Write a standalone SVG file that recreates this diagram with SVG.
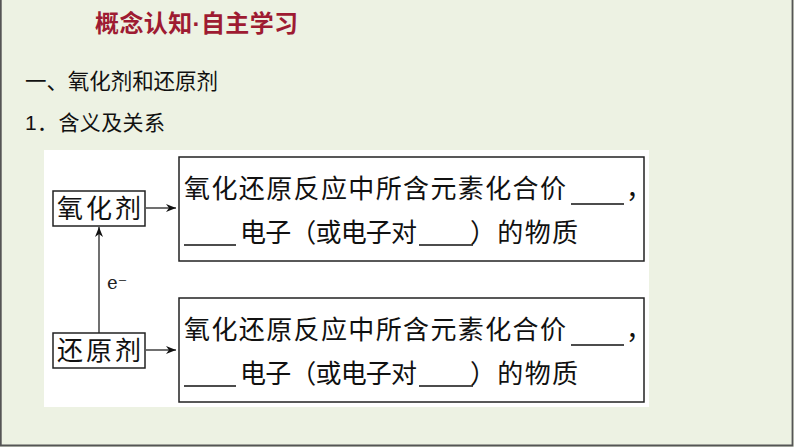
<svg xmlns="http://www.w3.org/2000/svg" width="794" height="447" viewBox="0 0 794 447">
<defs>
<style>
.hd{font-family:"Liberation Sans","Noto Sans CJK SC",sans-serif;fill:#111}
.tt{font-family:"Liberation Sans","Noto Sans CJK SC",sans-serif;font-weight:bold;fill:#9e1b32}
.bx{font-family:"Liberation Serif","Noto Sans CJK SC",serif;fill:#111;font-size:26px}
.box{fill:#fff;stroke:#222;stroke-width:1.5}
.ul{stroke:#111;stroke-width:1.3}
.ln{stroke:#111;stroke-width:1.2;fill:none}
</style>
<marker id="ah" viewBox="0 0 10 8" refX="10" refY="4" markerWidth="10" markerHeight="8" markerUnits="userSpaceOnUse" orient="auto">
<path d="M0,0 L10,4 L0,8 L3,4 Z" fill="#111"/>
</marker>
</defs>
<rect x="0" y="0" width="794" height="447" fill="#edf2e3"/>
<path d="M0.8,0 V445.5 H792.5 V0" fill="none" stroke="#555" stroke-width="1.8"/>
<text class="tt" x="95" y="32" font-size="24" textLength="203">概念认知·自主学习</text>
<text class="hd" x="25" y="89" font-size="21.5" textLength="193">一、氧化剂和还原剂</text>
<text class="hd" x="25" y="130" font-size="21" textLength="140">1．含义及关系</text>
<rect x="44" y="150" width="605" height="257" fill="#fff"/>
<g id="connectors">
<line class="ln" x1="146" y1="208" x2="176" y2="208" marker-end="url(#ah)"/>
<line class="ln" x1="146" y1="350" x2="176" y2="350" marker-end="url(#ah)"/>
<line class="ln" x1="99" y1="333" x2="99" y2="227" marker-end="url(#ah)"/>
<text x="107" y="289" font-family="DejaVu Serif,Liberation Serif,serif" font-size="18" fill="#222">e⁻</text>
</g>
<g id="oxidant">
<rect class="box" x="53" y="191" width="92" height="35"/>
<text class="bx" x="57" y="218" textLength="84">氧化剂</text>
</g>
<g id="reductant">
<rect class="box" x="53" y="333" width="92" height="35"/>
<text class="bx" x="57" y="360" textLength="84">还原剂</text>
</g>
<g id="oxidant-def">
<rect class="box" x="179" y="157" width="465" height="104"/>
<text class="bx" x="184" y="198" textLength="382">氧化还原反应中所含元素化合价</text>
<line class="ul" x1="571" y1="204" x2="624" y2="204"/>
<text class="bx" x="626" y="198">，</text>
<line class="ul" x1="184" y1="245" x2="236" y2="245"/>
<text class="bx" x="240" y="242" textLength="177">电子（或电子对</text>
<line class="ul" x1="419" y1="245" x2="473" y2="245"/>
<text class="bx" x="470" y="242" textLength="108">）的物质</text>
</g>
<g id="reductant-def">
<rect class="box" x="179" y="298" width="465" height="104"/>
<text class="bx" x="184" y="339" textLength="382">氧化还原反应中所含元素化合价</text>
<line class="ul" x1="571" y1="345" x2="624" y2="345"/>
<text class="bx" x="626" y="339">，</text>
<line class="ul" x1="184" y1="386" x2="236" y2="386"/>
<text class="bx" x="240" y="383" textLength="177">电子（或电子对</text>
<line class="ul" x1="419" y1="386" x2="473" y2="386"/>
<text class="bx" x="470" y="383" textLength="108">）的物质</text>
</g>
</svg>
